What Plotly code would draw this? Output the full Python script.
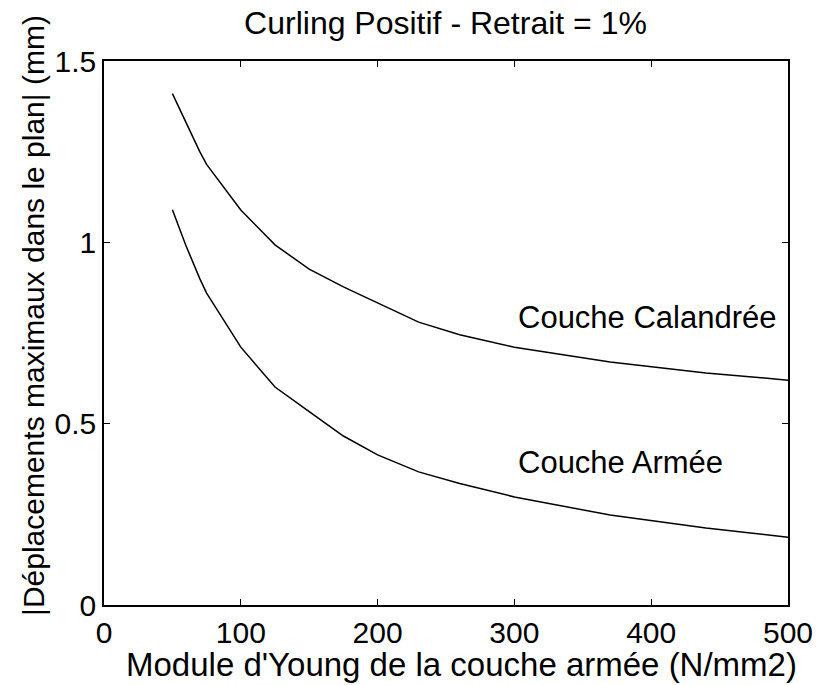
import plotly.graph_objects as go

# Module d'Young de la couche armée (N/mm2)
module_young = [50, 60, 70, 75, 100, 125, 150, 175, 200, 230, 260, 300, 370, 440, 500]

# Déplacements maximaux dans le plan (mm)
depl_calandree = [1.41, 1.33, 1.25, 1.215, 1.089, 0.993, 0.926, 0.877, 0.833, 0.780, 0.745, 0.711, 0.670, 0.640, 0.620]
depl_armee = [1.09, 0.99, 0.90, 0.86, 0.711, 0.601, 0.533, 0.466, 0.414, 0.367, 0.335, 0.298, 0.248, 0.212, 0.187]

x_ticks = [0, 100, 200, 300, 400, 500]
y_ticks = [0, 0.5, 1, 1.5]
y_tick_labels = ["0", "0.5", "1", "1.5"]

FONT = "Liberation Sans, Arial, sans-serif"


def f(size):
    return dict(family=FONT, size=size, color="black")


fig = go.Figure()
for name, ys in [("Couche Calandrée", depl_calandree), ("Couche Armée", depl_armee)]:
    fig.add_trace(go.Scatter(x=module_young, y=ys, mode="lines", name=name,
                             line=dict(color="black", width=1.5)))

# curve labels
fig.add_annotation(x=301, y=0.794, text="Couche Calandrée", showarrow=False,
                   xanchor="left", yanchor="middle", font=f(31))
fig.add_annotation(x=301, y=0.394, text="Couche Armée", showarrow=False,
                   xanchor="left", yanchor="middle", font=f(31))

# axis labels
fig.add_annotation(xref="paper", yref="paper", x=0.523, y=-0.110,
                   text="Module d'Young de la couche armée (N/mm2)", showarrow=False,
                   xanchor="center", yanchor="middle", font=f(33))
fig.add_annotation(xref="paper", yref="paper", x=-0.104, y=0.533, textangle=-90,
                   text="|Déplacements maximaux dans le plan| (mm)", showarrow=False,
                   xanchor="center", yanchor="middle", font=f(30))

axis_common = dict(showline=True, linecolor="black", linewidth=1.5, mirror="ticks",
                   ticks="inside", ticklen=6, tickwidth=1.2, tickcolor="black",
                   showgrid=False, zeroline=False, tickfont=f(30))

fig.update_xaxes(range=[0, 500], tickvals=x_ticks, **axis_common)
fig.update_yaxes(range=[0, 1.5], tickvals=y_ticks, ticktext=y_tick_labels, **axis_common)

fig.update_layout(
    width=825, height=685,
    margin=dict(l=104, r=31, t=61, b=80),
    plot_bgcolor="white", paper_bgcolor="white",
    showlegend=False,
    title=dict(text="Curling Positif - Retrait = 1%", x=0.54, xanchor="center",
               y=0.966, yanchor="middle", font=f(32)),
)

fig.write_html("out.html")
